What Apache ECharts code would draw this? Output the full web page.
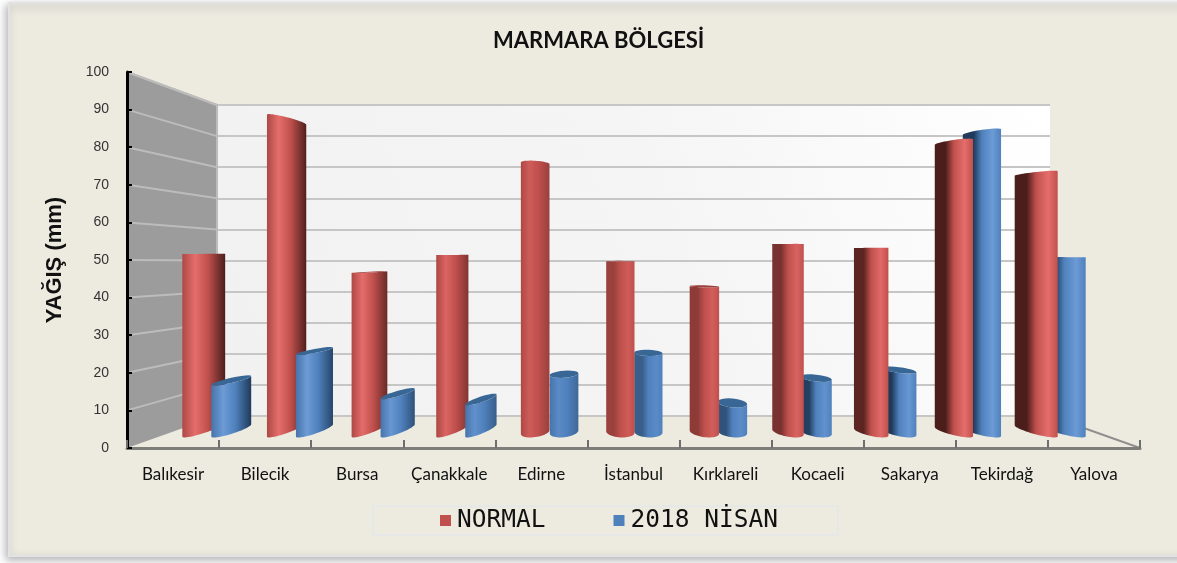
<!DOCTYPE html>
<html>
<head>
<meta charset="utf-8">
<style>
  html, body { margin: 0; padding: 0; background: #fff; }
  #main { width: 1177px; height: 563px; }
</style>
</head>
<body>
<div id="main"></div>
<script src="https://cdn.jsdelivr.net/npm/echarts@6/dist/echarts.min.js"></script>
<script>
var categories = ["Balıkesir", "Bilecik", "Bursa", "Çanakkale", "Edirne", "İstanbul", "Kırklareli", "Kocaeli", "Sakarya", "Tekirdağ", "Yalova"];
var normalValues = [50.9, 89.7, 45.6, 50.6, 76.8, 48.8, 41.6, 53.7, 52.6, 82.9, 74];
var nisanValues = [14.4, 22.9, 10.6, 8.9, 16.5, 22.6, 8.3, 15.4, 17.7, 85.7, 50];
var yTicks = [10, 20, 30, 40, 50, 60, 70, 80, 90, 100];

// fake 3d settings
var VP_X = 565, HORIZON = 250;
var FACE = 28;
var RED = { base: "#c0504d", hi: "#e56e6b", dark: "#4c1e1b", cap: "#9c403d" };
var BLUE = { base: "#4f81bd", hi: "#6c9bd6", dark: "#1f3a5a", cap: "#386796" };

function mix(a, b, t) {
  return echarts.color.lerp(t, [a, b]);
}

function barGradient(c, isLeft, side, isBlue) {
  var s = isLeft ? Math.min(1, side / 12) : Math.min(1, (side + (isBlue ? 1 : 0)) / (isBlue ? 5 : 8));
  var dark = mix(mix(c.base, "#000000", 0.18), c.dark, s);
  var hi = mix(c.base, c.hi, 0.35 + 0.65 * Math.min(1, side / 8));
  var edge = mix(c.base, "#000000", 0.1);
  var stops;
  if (isLeft) {
    stops = [
      { offset: 0, color: edge },
      { offset: 0.3, color: hi },
      { offset: 0.6, color: c.base },
      { offset: 1, color: dark }
    ];
  } else {
    stops = [
      { offset: 0, color: dark },
      { offset: 0.28, color: dark },
      { offset: 0.5, color: c.base },
      { offset: 0.78, color: hi },
      { offset: 1, color: c.base }
    ];
  }
  return new echarts.graphic.LinearGradient(0, 0, 1, 0, stops);
}

function makeBarRender(c, isBlue) {
  return function (params, api) {
    var top = api.coord([api.value(0), api.value(1)]);
    var bottom = api.coord([api.value(0), 0]);
    var cx = top[0];
    var dx = cx - VP_X;
    var isLeft = dx < 0;
    var side = isLeft ? -dx * 0.042 : dx * dx / 16200;
    if (isBlue && isLeft) side = side * 0.8;

    var xl, xr;
    if (isLeft) {
      xl = isBlue ? cx : cx - FACE - 1;
      xr = xl + FACE + side;
    } else {
      xr = isBlue ? cx + FACE : cx;
      xl = xr - FACE - side;
    }
    var nearDist = Math.max(60, Math.abs(VP_X - (isLeft ? xl : xr)));
    var mx = (xl + xr) / 2, a = (xr - xl) / 2;

    function rim(y, dir, from, to) {
      var e = Math.abs(y - HORIZON) * 0.03;
      var dy = (HORIZON - y) * side / nearDist * 2;
      var s = (isLeft ? dy : -dy) / 2;
      // keep some roundness but hold the extreme of the rim where it is
      var e2 = Math.max(Math.sqrt(Math.max(e * e - s * s, 0)), e * 0.65);
      var shift = Math.sqrt(e2 * e2 + s * s) - e;
      var pts = [];
      for (var k = 0; k <= 24; k++) {
        var th = from + (to - from) * k / 24;
        pts.push([mx + a * Math.cos(th), y - dir * shift + dir * e2 * Math.sin(th) + s * Math.cos(th)]);
      }
      return pts;
    }

    var yt = top[1], yb = bottom[1];
    var upper = rim(yt, yt < HORIZON ? -1 : 1, Math.PI, 0);
    var lower = rim(yb, 1, 0, Math.PI);
    var children = [{
      type: "polygon",
      shape: { points: upper.concat(lower) },
      style: { fill: barGradient(c, isLeft, side, isBlue) }
    }];
    if (yt > HORIZON + 8) {
      children.push({
        type: "polygon",
        shape: { points: rim(yt, 1, 0, Math.PI * 2) },
        style: { fill: c.cap }
      });
    }
    // the bar nearer to the viewer goes on top
    var order = isBlue === isLeft ? 3 : 2;
    children.forEach(function (ch) { ch.z2 = order; });
    return { type: "group", children: children };
  };
}

// left wall lines run from the front axis to the back wall
var BACK_X = 217, BACK_TOP = 105, BACK_BOTTOM = 416;
function renderWall(params, api) {
  var p = api.coord([0, api.value(0)]);
  var zero = api.coord([0, 0]);
  var full = api.coord([0, 100]);
  var x0 = zero[0] - 46; // band center back to the axis
  var t = (zero[1] - p[1]) / (zero[1] - full[1]);
  var yBack = BACK_BOTTOM - t * (BACK_BOTTOM - BACK_TOP);
  return {
    type: "line",
    shape: { x1: x0, y1: p[1], x2: BACK_X, y2: yBack },
    style: { stroke: "#bcbcbc", lineWidth: 2 }
  };
}

var myChart = echarts.init(document.getElementById("main"), null, { renderer: "canvas" });

var option = {
  animation: false,
  backgroundColor: "#ffffff",
  title: {
    text: "MARMARA BÖLGESİ",
    left: 488,
    top: 25,
    textStyle: { fontFamily: "Lato", fontSize: 22, fontWeight: "bold", color: "#111" }
  },
  legend: {
    left: 373,
    top: 506,
    padding: [2, 60, 2, 67],
    itemWidth: 11,
    itemHeight: 11,
    itemGap: 68,
    borderColor: "#dde6ee",
    borderWidth: 1,
    data: [{ name: "NORMAL", icon: "rect" }, { name: "2018 NİSAN", icon: "rect" }],
    textStyle: { fontFamily: "DejaVu Sans Mono", fontSize: 24.5, color: "#111", padding: [2, 0, 0, 1] }
  },
  graphic: [
    {
      type: "rect",
      z: -10,
      shape: { x: 9, y: 3, width: 1190, height: 553 },
      style: { fill: "#edebe0", stroke: "#e2e2e2", lineWidth: 2, shadowBlur: 8, shadowColor: "rgba(90,90,100,0.45)", shadowOffsetX: -2, shadowOffsetY: 3 }
    },
    {
      type: "polygon",
      z: 0,
      shape: { points: [[127, 72], [217, 105], [217, 416], [127, 448]] },
      style: { fill: "#9c9c9c" }
    },
    {
      type: "polyline",
      z: 1,
      shape: { points: [[127, 72], [217, 105], [217, 416]] },
      style: { stroke: "#bcbcbc", lineWidth: 2, fill: null }
    },
    {
      type: "line",
      z: 1,
      shape: { x1: 1050, y1: 416, x2: 1140, y2: 448 },
      style: { stroke: "#8f8f8f", lineWidth: 2 }
    }
  ],
  grid: [
    { left: 127, width: 1013, top: 72, height: 376, z: 5 },
    { left: 169, width: 931, top: 82, height: 350 },
    {
      left: 217, width: 833, top: 105, height: 311, show: true, borderWidth: 0,
      backgroundColor: new echarts.graphic.LinearGradient(0, 1, 1, 0, [
        { offset: 0, color: "#f1f1f1" },
        { offset: 0.55, color: "#f5f5f5" },
        { offset: 1, color: "#ffffff" }
      ])
    }
  ],
  xAxis: [
    {
      gridIndex: 0,
      type: "category",
      data: categories,
      z: 6,
      axisLine: { lineStyle: { color: "#7d7d7a", width: 3 } },
      axisTick: { show: true, inside: true, length: 8, lineStyle: { color: "#6e6e6e", width: 2 } },
      axisLabel: { margin: 18, interval: 0, color: "#111", fontSize: 17, fontFamily: "Lato" }
    },
    { gridIndex: 1, type: "category", data: categories, show: false },
    { gridIndex: 2, type: "category", data: categories, show: false }
  ],
  yAxis: [
    {
      gridIndex: 0,
      type: "value",
      min: 0,
      max: 100,
      interval: 10,
      z: 6,
      name: "YAĞIŞ (mm)",
      nameLocation: "middle",
      nameGap: 55,
      nameRotate: 90,
      nameTextStyle: { fontFamily: "Liberation Sans", fontWeight: "bold", fontSize: 22, color: "#111", padding: [0, 0, 6, 0] },
      axisLine: { show: true, lineStyle: { color: "#000", width: 3 } },
      axisTick: { show: true, inside: true, length: 5, lineStyle: { color: "#000", width: 2 } },
      axisLabel: { margin: 18, color: "#333", fontSize: 14, fontFamily: "Liberation Sans" },
      splitLine: { show: false }
    },
    { gridIndex: 1, type: "value", min: 0, max: 100, show: false, splitLine: { show: false } },
    {
      gridIndex: 2,
      type: "value",
      min: 0,
      max: 100,
      interval: 10,
      axisLine: { show: false },
      axisTick: { show: false },
      axisLabel: { show: false },
      splitLine: { show: true, lineStyle: { color: "#c6c6c6", width: 2 } }
    }
  ],
  series: [
    {
      name: "wall",
      type: "custom",
      xAxisIndex: 0,
      yAxisIndex: 0,
      silent: true,
      z: 1,
      renderItem: renderWall,
      data: yTicks.map(function (v) { return [v]; }),
      encode: { y: 0 }
    },
    {
      name: "NORMAL",
      type: "custom",
      xAxisIndex: 1,
      yAxisIndex: 1,
      z: 3,
      itemStyle: { color: RED.base },
      renderItem: makeBarRender(RED, false),
      data: normalValues.map(function (v, i) { return [i, v]; }),
      encode: { x: 0, y: 1 }
    },
    {
      name: "2018 NİSAN",
      type: "custom",
      xAxisIndex: 1,
      yAxisIndex: 1,
      z: 3,
      itemStyle: { color: BLUE.base },
      renderItem: makeBarRender(BLUE, true),
      data: nisanValues.map(function (v, i) { return [i, v]; }),
      encode: { x: 0, y: 1 }
    }
  ]
};

myChart.setOption(option);
window.addEventListener("resize", function () {
  myChart.resize();
});
</script>
</body>
</html>
